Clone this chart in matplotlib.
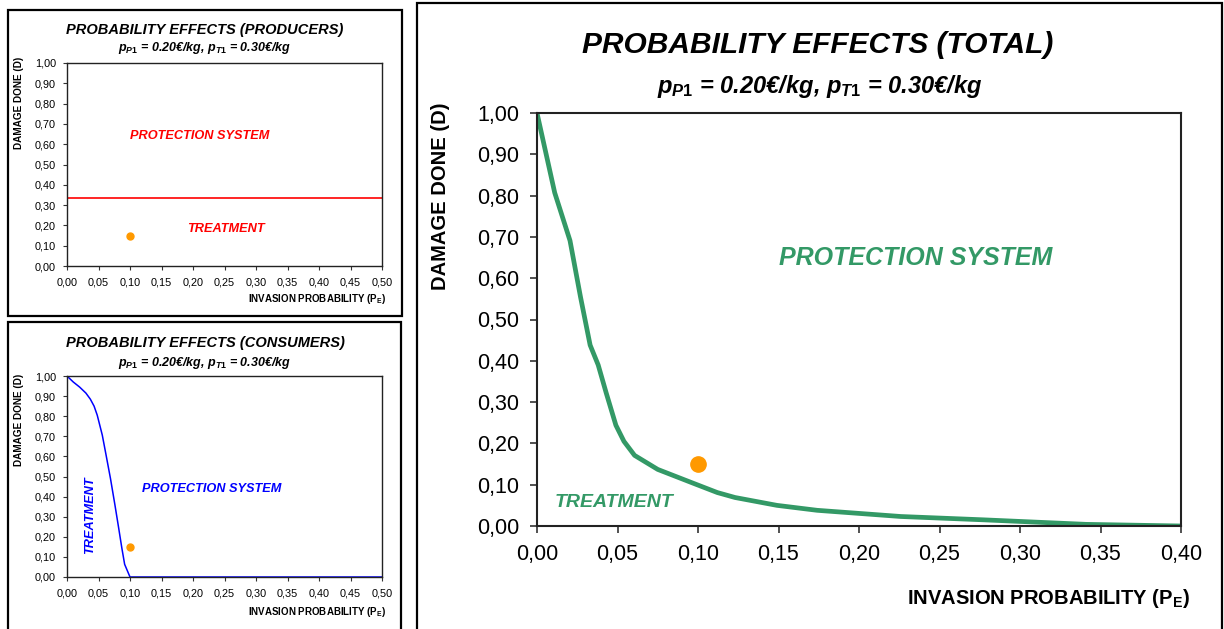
import matplotlib
matplotlib.use("Agg")
import matplotlib.pyplot as plt
from matplotlib.patches import Rectangle
from matplotlib.ticker import FixedLocator, FixedFormatter

plt.rcParams['font.family'] = ['Liberation Sans', 'DejaVu Sans']
plt.rcParams['mathtext.fontset'] = 'custom'
plt.rcParams['mathtext.it'] = 'Liberation Sans:italic:bold'
plt.rcParams['mathtext.rm'] = 'Liberation Sans:bold'
plt.rcParams['mathtext.bf'] = 'Liberation Sans:bold'

# datos
productores_umbral = 0.333
punto_x = 0.10
punto_y = 0.15

consumidores_x = [0.0, 0.01, 0.02, 0.03, 0.037, 0.043, 0.048, 0.056, 0.062, 0.069, 0.076,
                  0.082, 0.087, 0.0915, 0.10, 0.50]
consumidores_y = [1.0, 0.97, 0.945, 0.915, 0.885, 0.85, 0.805, 0.706, 0.607, 0.49, 0.36,
                  0.244, 0.145, 0.063, 0.0, 0.0]

total_x = [0.0, 0.011, 0.0205, 0.027, 0.033, 0.038, 0.043, 0.049, 0.054, 0.0606,
           0.075, 0.0974, 0.112, 0.123, 0.149, 0.174, 0.226, 0.277, 0.341, 0.40]
total_y = [1.0, 0.807, 0.691, 0.555, 0.438, 0.39, 0.322, 0.244, 0.205, 0.171,
           0.137, 0.103, 0.081, 0.069, 0.05, 0.038, 0.023, 0.015, 0.004, 0.0]

ticks_y = [0.0, 0.1, 0.2, 0.3, 0.4, 0.5, 0.6, 0.7, 0.8, 0.9, 1.0]
etiquetas_y = ['0,00', '0,10', '0,20', '0,30', '0,40', '0,50', '0,60', '0,70', '0,80', '0,90', '1,00']
ticks_x_chico = [0.0, 0.05, 0.1, 0.15, 0.2, 0.25, 0.3, 0.35, 0.4, 0.45, 0.5]
etiquetas_x_chico = ['0,00', '0,05', '0,10', '0,15', '0,20', '0,25', '0,30', '0,35', '0,40', '0,45', '0,50']
ticks_x_total = [0.0, 0.05, 0.1, 0.15, 0.2, 0.25, 0.3, 0.35, 0.4]
etiquetas_x_total = ['0,00', '0,05', '0,10', '0,15', '0,20', '0,25', '0,30', '0,35', '0,40']

verde = '#339966'
naranja = '#FF9900'

W, H = 1224, 629
fig = plt.figure(figsize=(W / 100, H / 100), dpi=100)


def px(x, y):
    return x / W, 1 - y / H


def marco(x0, y0, x1, y1):
    fig.patches.append(Rectangle((x0 / W, 1 - y1 / H), (x1 - x0) / W, (y1 - y0) / H,
                                 transform=fig.transFigure, fill=False,
                                 edgecolor='black', linewidth=1.6))


def preparar_ejes(ax, xt, xl, xmax, tam, largo, sep):
    ax.set_xlim(0, xmax)
    ax.set_ylim(0, 1)
    ax.xaxis.set_major_locator(FixedLocator(xt))
    ax.xaxis.set_major_formatter(FixedFormatter(xl))
    ax.yaxis.set_major_locator(FixedLocator(ticks_y))
    ax.yaxis.set_major_formatter(FixedFormatter(etiquetas_y))
    ax.tick_params(labelsize=tam, direction='out', length=largo, width=0.8,
                   color='#333333', pad=sep)
    for s in ax.spines.values():
        s.set_linewidth(1.0)
        s.set_color('#222222')


subtitulo = r"$p_{P1}$ = 0.20€/kg, $p_{T1}$ = 0.30€/kg"

# panel productores
marco(8, 10, 402, 316)
ax1 = fig.add_axes([67 / W, 1 - 266 / H, 315 / W, 203 / H])
preparar_ejes(ax1, ticks_x_chico, etiquetas_x_chico, 0.5, 7.8, 3, 5)
ax1.axhline(productores_umbral, color='red', linewidth=1.2)
ax1.plot([punto_x], [punto_y], 'o', color=naranja, markersize=5)
ax1.text(0.21, 0.64, 'PROTECTION SYSTEM', color='red', fontsize=9.2, fontweight='bold',
         style='italic', ha='center', va='center')
ax1.text(0.252, 0.18, 'TREATMENT', color='red', fontsize=9.2, fontweight='bold',
         style='italic', ha='center', va='center')
fig.text(*px(205, 30), 'PROBABILITY EFFECTS (PRODUCERS)', fontsize=10.5, fontweight='bold',
         style='italic', ha='center', va='center')
fig.text(*px(205, 48), subtitulo, fontsize=9, fontweight='bold', style='italic',
         ha='center', va='center')
fig.text(*px(386, 299), r"INVASION PROBABILITY (P$_\mathrm{E}$)", fontsize=7, fontweight='bold',
         ha='right', va='center')
fig.text(*px(19, 103), 'DAMAGE DONE (D)', fontsize=7.2, fontweight='bold', rotation=90,
         ha='center', va='center')

# panel consumidores
marco(8, 322, 401, 640)
ax2 = fig.add_axes([67 / W, 1 - 577 / H, 315 / W, 201 / H])
preparar_ejes(ax2, ticks_x_chico, etiquetas_x_chico, 0.5, 7.8, 3, 5)
ax2.plot(consumidores_x, consumidores_y, color='blue', linewidth=1.1)
ax2.plot([punto_x], [punto_y], 'o', color=naranja, markersize=5)
ax2.text(0.23, 0.44, 'PROTECTION SYSTEM', color='blue', fontsize=9.2, fontweight='bold',
         style='italic', ha='center', va='center')
ax2.text(0.037, 0.31, 'TREATMENT', color='blue', fontsize=9.2, fontweight='bold',
         style='italic', ha='center', va='center', rotation=90)
fig.text(*px(205, 343), 'PROBABILITY EFFECTS (CONSUMERS)', fontsize=10.5, fontweight='bold',
         style='italic', ha='center', va='center')
fig.text(*px(205, 363), subtitulo, fontsize=9, fontweight='bold', style='italic',
         ha='center', va='center')
fig.text(*px(386, 612), r"INVASION PROBABILITY (P$_\mathrm{E}$)", fontsize=7, fontweight='bold',
         ha='right', va='center')
fig.text(*px(19, 420), 'DAMAGE DONE (D)', fontsize=7.2, fontweight='bold', rotation=90,
         ha='center', va='center')

# panel total
marco(417, 3, 1222, 640)
ax3 = fig.add_axes([537 / W, 1 - 526 / H, 644 / W, 413 / H])
preparar_ejes(ax3, ticks_x_total, etiquetas_x_total, 0.4, 15.5, 5, 8)
for s in ax3.spines.values():
    s.set_linewidth(1.5)
ax3.tick_params(width=1.2)
ax3.plot(total_x, total_y, color=verde, linewidth=3.4, solid_capstyle='butt')
ax3.plot([punto_x], [punto_y], 'o', color=naranja, markersize=11)
ax3.text(0.235, 0.65, 'PROTECTION SYSTEM', color=verde, fontsize=18, fontweight='bold',
         style='italic', ha='center', va='center')
ax3.text(0.048, 0.057, 'TREATMENT', color=verde, fontsize=14, fontweight='bold',
         style='italic', ha='center', va='center')
fig.text(*px(818, 45), 'PROBABILITY EFFECTS (TOTAL)', fontsize=21.5, fontweight='bold',
         style='italic', ha='center', va='center')
fig.text(*px(820, 87), subtitulo, fontsize=17, fontweight='bold', style='italic',
         ha='center', va='center')
fig.text(*px(1190, 598), r"INVASION PROBABILITY (P$_\mathrm{E}$)", fontsize=14.5, fontweight='bold',
         ha='right', va='center')
fig.text(*px(440, 196), 'DAMAGE DONE (D)', fontsize=14.5, fontweight='bold', rotation=90,
         ha='center', va='center')

fig.savefig('out.png', dpi=100)
